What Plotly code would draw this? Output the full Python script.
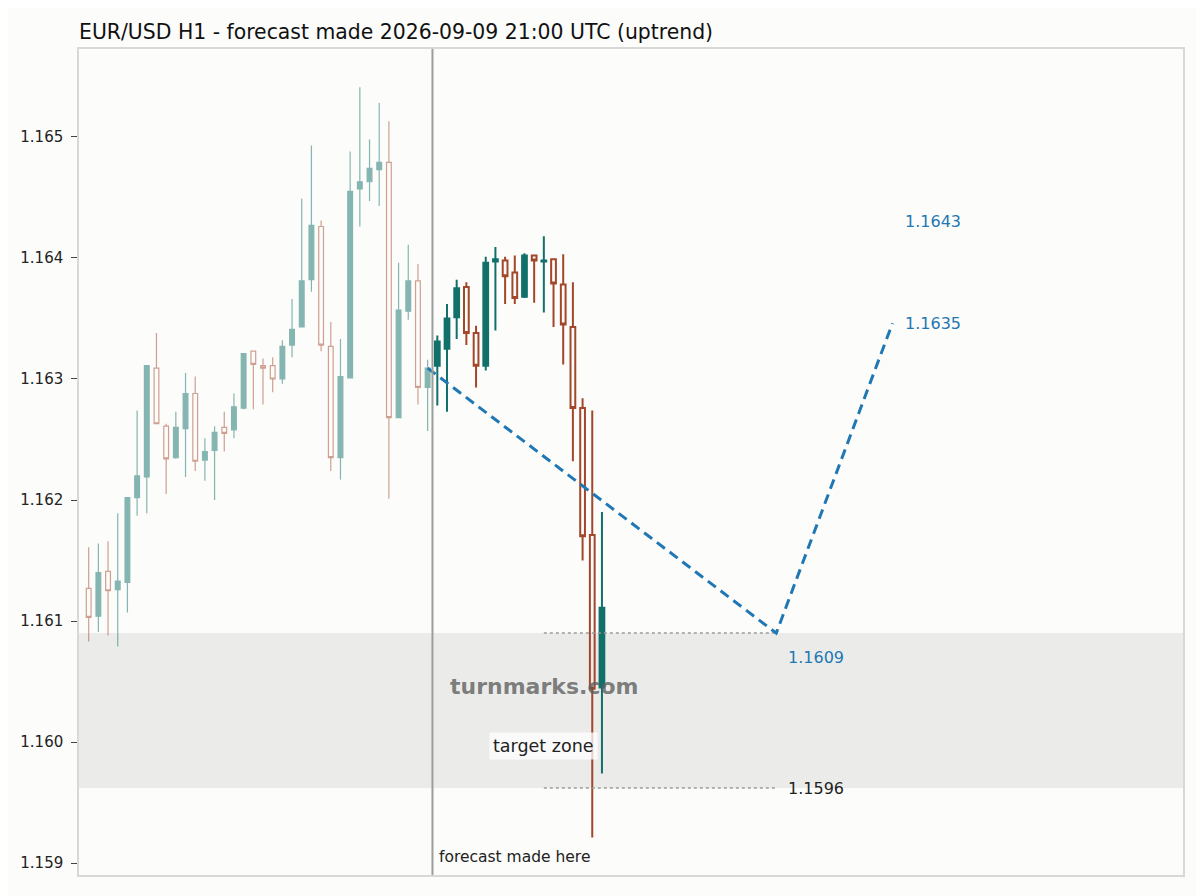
import pandas as pd
import plotly.graph_objects as go

# hourly candles, the last history candle is the forecast hour
times = pd.date_range("2026-09-08 10:00", periods=54, freq="h")
n_hist = 36

hist_open = [1.16127, 1.16104, 1.16141, 1.16126, 1.16132, 1.16202, 1.16219, 1.16309, 1.16261, 1.16235,
             1.16259, 1.16288, 1.16233, 1.16241, 1.16260, 1.16258, 1.16276, 1.16323, 1.16311, 1.16311,
             1.16300, 1.16328, 1.16343, 1.16382, 1.16426, 1.16327, 1.16235, 1.16301, 1.16457, 1.16463,
             1.16473, 1.16479, 1.16268, 1.16356, 1.16381, 1.16293]
hist_high = [1.16161, 1.16164, 1.16166, 1.16189, 1.16202, 1.16274, 1.16311, 1.16338, 1.16263, 1.16273,
             1.16305, 1.16302, 1.16251, 1.16261, 1.16273, 1.16288, 1.16321, 1.16323, 1.16317, 1.16318,
             1.16332, 1.16366, 1.16449, 1.16493, 1.16431, 1.16347, 1.16333, 1.16488, 1.16541, 1.16498,
             1.16528, 1.16513, 1.16396, 1.16411, 1.16395, 1.16316]
hist_low = [1.16083, 1.16091, 1.16088, 1.16079, 1.16107, 1.16187, 1.16189, 1.16263, 1.16205, 1.16234,
            1.16219, 1.16224, 1.16216, 1.16200, 1.16240, 1.16251, 1.16275, 1.16275, 1.16279, 1.16289,
            1.16296, 1.16318, 1.16343, 1.16372, 1.16323, 1.16224, 1.16217, 1.16301, 1.16426, 1.16447,
            1.16443, 1.16201, 1.16268, 1.16349, 1.16279, 1.16257]
hist_close = [1.16103, 1.16140, 1.16125, 1.16133, 1.16202, 1.16220, 1.16311, 1.16263, 1.16234, 1.16260,
              1.16288, 1.16232, 1.16240, 1.16256, 1.16255, 1.16277, 1.16321, 1.16312, 1.16309, 1.16300,
              1.16327, 1.16341, 1.16381, 1.16427, 1.16328, 1.16235, 1.16302, 1.16455, 1.16463, 1.16474,
              1.16479, 1.16268, 1.16357, 1.16381, 1.16293, 1.16309]

fc_open = [1.16311, 1.16325, 1.16351, 1.16376, 1.16338, 1.16311, 1.16397, 1.16398, 1.16388,
           1.16368, 1.16402, 1.16397, 1.16399, 1.16378, 1.16343, 1.16276, 1.16171, 1.16045]
fc_high = [1.16336, 1.16362, 1.16382, 1.16380, 1.16344, 1.16401, 1.16409, 1.16401, 1.16402,
           1.16404, 1.16402, 1.16418, 1.16399, 1.16403, 1.16380, 1.16284, 1.16274, 1.16190]
fc_low = [1.16278, 1.16273, 1.16333, 1.16328, 1.16293, 1.16307, 1.16340, 1.16362, 1.16362,
          1.16367, 1.16363, 1.16355, 1.16343, 1.16312, 1.16232, 1.16150, 1.15921, 1.15974]
fc_close = [1.16331, 1.16350, 1.16375, 1.16338, 1.16311, 1.16396, 1.16399, 1.16385, 1.16367,
            1.16402, 1.16398, 1.16398, 1.16379, 1.16345, 1.16276, 1.16170, 1.16044, 1.16111]

# forecast path and target zone
path_times = ["2026-09-09 21:00", "2026-09-11 09:00", "2026-09-11 21:00"]
path_prices = [1.16309, 1.16090, 1.16346]
upper_level = 1.1643
zone_low = 1.15962
zone_high = 1.16090
level_start = "2026-09-10 09:00"
level_end = "2026-09-11 09:00"
forecast_line = "2026-09-09 21:30"
x_range = ["2026-09-08 09:00", "2026-09-13 03:00"]
y_ticks = [1.159, 1.160, 1.161, 1.162, 1.163, 1.164, 1.165]

TEAL = "#11716a"
RUST = "#a3472b"
BLUE = "#1f77b4"
BG = "#fcfcfa"

fig = go.Figure()

# target zone band across the whole plot
fig.add_shape(type="rect", xref="paper", x0=0, x1=1, y0=zone_low, y1=zone_high,
              fillcolor="#ebecea", line_width=0, layer="below")

# history candles (faded)
fig.add_trace(go.Candlestick(
    x=times[:n_hist], open=hist_open, high=hist_high, low=hist_low, close=hist_close,
    increasing=dict(line=dict(color=TEAL, width=1.2), fillcolor=TEAL),
    decreasing=dict(line=dict(color=RUST, width=1.2), fillcolor="rgba(0,0,0,0)"),
    opacity=0.5, showlegend=False, hoverinfo="skip"))

# candles after the forecast
fig.add_trace(go.Candlestick(
    x=times[n_hist:], open=fc_open, high=fc_high, low=fc_low, close=fc_close,
    increasing=dict(line=dict(color=TEAL, width=2), fillcolor=TEAL),
    decreasing=dict(line=dict(color=RUST, width=2), fillcolor="rgba(0,0,0,0)"),
    showlegend=False, hoverinfo="skip"))

# dotted zone levels
for lvl in [zone_high, zone_low]:
    fig.add_trace(go.Scatter(x=[level_start, level_end], y=[lvl, lvl], mode="lines",
                             line=dict(color="#9a9a9a", width=1.5, dash="dot"),
                             showlegend=False, hoverinfo="skip"))

# forecast path
fig.add_trace(go.Scatter(x=path_times, y=path_prices, mode="lines",
                         line=dict(color=BLUE, width=3, dash="10px,6px"),
                         showlegend=False, hoverinfo="skip"))

# forecast moment
fig.add_shape(type="line", x0=forecast_line, x1=forecast_line, yref="paper", y0=0, y1=1,
              line=dict(color="#9c9e9c", width=2))

fig.add_annotation(x=forecast_line, y=0, yref="paper", text="forecast made here",
                   showarrow=False, xanchor="left", yanchor="bottom", xshift=5, yshift=7,
                   font=dict(size=15.5, color="#222"))
fig.add_annotation(x=level_start, y=1.16046, text="<b>turnmarks.com</b>", showarrow=False,
                   font=dict(size=22, color="rgba(95,95,95,0.8)"))
fig.add_annotation(x=level_start, y=1.15997, text="target zone", showarrow=False,
                   bgcolor="rgba(255,255,255,0.75)", borderpad=3,
                   font=dict(size=17.5, color="#222"))
fig.add_annotation(x=path_times[1], y=zone_high, text=f"{zone_high:.4f}", showarrow=False,
                   xanchor="right", xshift=70, yshift=-24, font=dict(size=16, color=BLUE))
fig.add_annotation(x=path_times[1], y=zone_low, text=f"{zone_low:.4f}", showarrow=False,
                   xanchor="right", xshift=70, font=dict(size=16, color="#222"))
fig.add_annotation(x=path_times[2], y=path_prices[2], text=f"{path_prices[2]:.4f}", showarrow=False,
                   xanchor="left", xshift=11, font=dict(size=16, color=BLUE))
fig.add_annotation(x=path_times[2], y=upper_level, text=f"{upper_level:.4f}", showarrow=False,
                   xanchor="left", xshift=11, font=dict(size=16, color=BLUE))

# the page adds an 8px body margin, so the figure is 8px smaller and margins shifted
fig.update_layout(
    width=1196, height=888,
    margin=dict(l=71, r=21, t=41, b=21),
    paper_bgcolor=BG, plot_bgcolor=BG,
    font=dict(family="DejaVu Sans", color="#222"),
    title=dict(text="EUR/USD H1 - forecast made 2026-09-09 21:00 UTC (uptrend)",
               x=0, xref="paper", xanchor="left", y=1 - 24 / 888, yanchor="middle",
               font=dict(size=20.4, color="#111")),
    xaxis=dict(range=x_range, showticklabels=False, showgrid=False, zeroline=False,
               rangeslider=dict(visible=False), showline=True, mirror=True,
               linecolor="#d6d9d6", linewidth=1.5, ticks=""),
    yaxis=dict(range=[1.158901, 1.165727], tickvals=y_ticks, tickformat=".3f",
               showgrid=False, zeroline=False, showline=True, mirror=True,
               linecolor="#d6d9d6", linewidth=1.5, ticks="outside", ticklen=6,
               ticklabelstandoff=5,
               tickcolor="#444", tickfont=dict(size=15, color="#222")),
)

fig.write_html("out.html")
